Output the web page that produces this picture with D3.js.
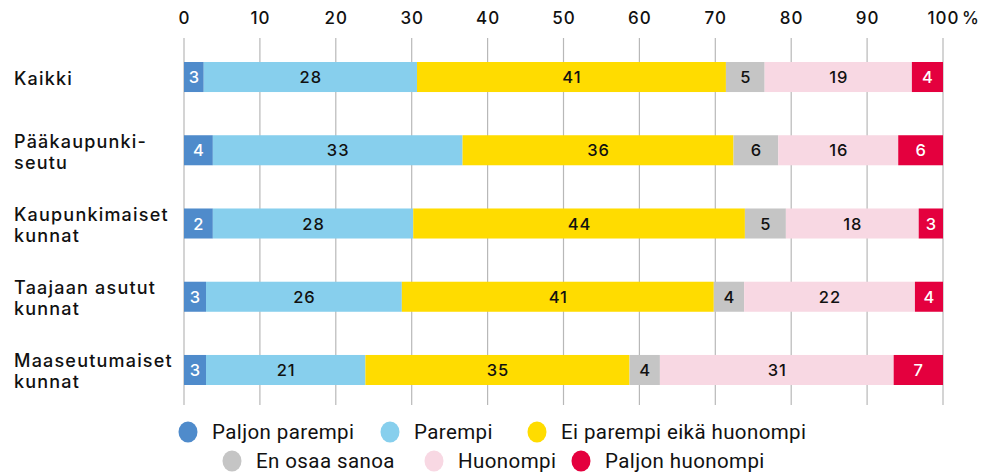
<!DOCTYPE html>
<html><head><meta charset="utf-8">
<script src="https://cdn.jsdelivr.net/npm/d3@7"></script>
<style>body{margin:0;background:#fff}svg{display:block}</style>
</head><body>
<svg id="c" width="990" height="472"></svg>
<script>
const categories = [["Kaikki"], ["Pääkaupunki-", "seutu"], ["Kaupunkimaiset", "kunnat"], ["Taajaan asutut", "kunnat"], ["Maaseutumaiset", "kunnat"]];
const seriesNames = ["Paljon parempi", "Parempi", "Ei parempi eikä huonompi", "En osaa sanoa", "Huonompi", "Paljon huonompi"];
const colors = ["#4f8bcb", "#87cfed", "#ffdc00", "#c5c5c5", "#f8d8e3", "#e4003e"];
const labelColors = ["#fff", "#111", "#111", "#111", "#111", "#fff"];
// segment widths (%), per category
const paljonParempi = [2.6, 3.8, 3.8, 2.9, 2.9];
const parempi = [28.1, 32.9, 26.4, 25.8, 21.0];
const eiParempi = [40.7, 35.7, 43.7, 41.1, 34.8];
const enOsaa = [5.1, 5.9, 5.4, 4.0, 4.0];
const huonompi = [19.4, 15.8, 17.5, 22.5, 30.8];
const paljonHuonompi = [4.1, 5.9, 3.2, 3.7, 6.5];
// printed labels
const labels = [
  [3, 28, 41, 5, 19, 4],
  [4, 33, 36, 6, 16, 6],
  [2, 28, 44, 5, 18, 3],
  [3, 26, 41, 4, 22, 4],
  [3, 21, 35, 4, 31, 7]
];
const ticks = [0, 10, 20, 30, 40, 50, 60, 70, 80, 90, 100];

const series = [paljonParempi, parempi, eiParempi, enOsaa, huonompi, paljonHuonompi];
const svg = d3.select("#c");
const font = "Inter, 'DejaVu Sans', sans-serif";
const x = d3.scaleLinear().domain([0, 100]).range([184, 943]);
const y = d3.scaleBand().domain(d3.range(categories.length)).range([62, 385]).paddingInner(0.59).paddingOuter(0);

// grid
svg.append("g").selectAll("line").data(ticks).join("line")
  .attr("x1", d => x(d)).attr("x2", d => x(d)).attr("y1", 38).attr("y2", 405)
  .attr("stroke", "#b8b8b8").attr("stroke-width", 1.2);

// axis labels
const ax = svg.append("g").attr("font-family", font).attr("font-size", 17).attr("font-weight", 500)
  .attr("letter-spacing", 1).attr("fill", "#111");
ax.selectAll("text").data(ticks).join("text")
  .attr("x", d => x(d) + 0.5).attr("y", 24).attr("text-anchor", "middle").text(d => d);
ax.append("text").attr("x", x(100) + 19).attr("y", 24).attr("letter-spacing", 0).text("%");

// bars
const rows = categories.map((c, i) => {
  let acc = 0;
  return series.map((s, j) => { const v = s[i]; const r = {i, j, x0: acc, x1: acc + v, label: labels[i][j]}; acc += v; return r; });
});
const g = svg.append("g");
rows.forEach(row => {
  g.selectAll(null).data(row).join("rect")
    .attr("x", d => x(d.x0)).attr("width", d => x(d.x1) - x(d.x0))
    .attr("y", d => y(d.i)).attr("height", y.bandwidth())
    .attr("fill", d => colors[d.j]);
  g.selectAll(null).data(row).join("text")
    .attr("x", d => (x(d.x0) + x(d.x1)) / 2 + 0.5).attr("y", d => y(d.i) + y.bandwidth() / 2 + 6)
    .attr("text-anchor", "middle").attr("font-family", font).attr("font-size", 16.5).attr("font-weight", 500)
    .attr("letter-spacing", 1)
    .attr("fill", d => labelColors[d.j]).text(d => d.label);
});

// category labels
const cg = svg.append("g").attr("font-family", font).attr("font-size", 18).attr("font-weight", 500)
  .attr("letter-spacing", 1.2).attr("fill", "#111");
categories.forEach((lines, i) => {
  const base = y(i) + y.bandwidth() / 2 + 8;
  const t = cg.append("text").attr("x", 14);
  lines.forEach((l, k) => {
    t.append("tspan").attr("x", 14)
      .attr("y", base + (k - (lines.length - 1) / 2) * 21).text(l);
  });
});

// legend
const legendFont = "Roboto, 'Liberation Sans', sans-serif";
const legendPos = [[188, 432], [390, 432], [537, 432], [232, 461], [434, 461], [581, 461]];
const lg = svg.append("g").attr("font-family", legendFont).attr("font-size", 20.5)
  .attr("letter-spacing", 0.4).attr("fill", "#111");
seriesNames.forEach((n, j) => {
  const [cx, cy] = legendPos[j];
  lg.append("ellipse").attr("cx", cx).attr("cy", cy).attr("rx", 9.5).attr("ry", 10.5).attr("fill", colors[j]);
  lg.append("text").attr("x", cx + 24).attr("y", cy + 7).text(n);
});
</script>
</body></html>
